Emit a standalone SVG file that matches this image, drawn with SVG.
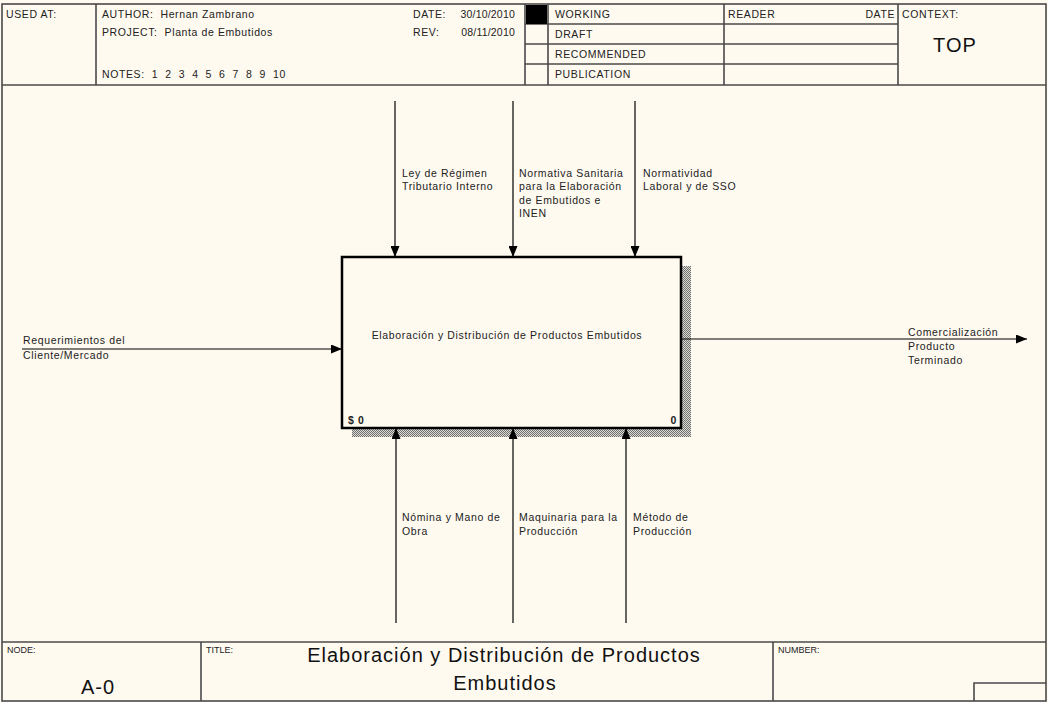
<svg xmlns="http://www.w3.org/2000/svg" width="1048" height="702" viewBox="0 0 1048 702">
  <style>
    .frame { fill: none; stroke: #4a4a4a; stroke-width: 1.6; }
    .hdr { font-family: "Liberation Sans", Arial, sans-serif; font-size: 10.5px; letter-spacing: 0.6px; fill: #222; }
    .num { font-family: "Liberation Sans", Arial, sans-serif; font-size: 10.5px; letter-spacing: 0.2px; fill: #222; }
    .lbl { font-family: "Liberation Sans", Arial, sans-serif; font-size: 10.5px; letter-spacing: 0.65px; fill: #222; }
    .small { font-family: "Liberation Sans", Arial, sans-serif; font-size: 9px; fill: #222; }
    .big { font-family: "Liberation Sans", Arial, sans-serif; font-size: 20px; letter-spacing: 1px; fill: #111; }
    .conn { fill: none; stroke: #000; stroke-width: 1.2; }
    .box { fill: #fffaf0; stroke: #000; stroke-width: 2.5; }
  </style>
  <defs>
    <pattern id="hatch" width="2" height="2" patternUnits="userSpaceOnUse">
      <rect width="2" height="2" fill="#dcdcd4"/>
      <rect width="1" height="1" fill="#707070"/>
      <rect x="1" y="1" width="1" height="1" fill="#707070"/>
    </pattern>
    <marker id="arrow" markerUnits="userSpaceOnUse" markerWidth="12" markerHeight="9" refX="11" refY="4.5" orient="auto">
      <path d="M0,0 L11,4.5 L0,9 Z" fill="#000"/>
    </marker>
  </defs>

  <!-- sheet background -->
  <rect x="0" y="0" width="1048" height="702" fill="#fffaf0"/>

  <!-- outer frame -->
  <rect class="frame" x="2" y="4" width="1044" height="697"/>

  <!-- header block -->
  <g id="header">
    <line class="frame" x1="2" y1="85" x2="1046" y2="85"/>
    <line class="frame" x1="96" y1="4" x2="96" y2="85"/>
    <line class="frame" x1="525" y1="4" x2="525" y2="85"/>
    <line class="frame" x1="548" y1="4" x2="548" y2="85"/>
    <line class="frame" x1="724" y1="4" x2="724" y2="85"/>
    <line class="frame" x1="898" y1="4" x2="898" y2="85"/>
    <line class="frame" x1="525" y1="24" x2="898" y2="24"/>
    <line class="frame" x1="525" y1="44" x2="898" y2="44"/>
    <line class="frame" x1="525" y1="64" x2="898" y2="64"/>
    <rect x="526" y="5" width="21" height="19" fill="#000"/>
    <text class="hdr" x="6" y="18">USED AT:</text>
    <text class="hdr" x="102" y="18" xml:space="preserve">AUTHOR:  Hernan Zambrano</text>
    <text class="hdr" x="102" y="36" xml:space="preserve">PROJECT:  Planta de Embutidos</text>
    <text class="hdr" x="102" y="78" xml:space="preserve">NOTES:  1  2  3  4  5  6  7  8  9  10</text>
    <text class="hdr" x="413" y="18">DATE:</text>
    <text class="num" x="515" y="18" text-anchor="end">30/10/2010</text>
    <text class="hdr" x="413" y="36">REV:</text>
    <text class="num" x="515" y="36" text-anchor="end">08/11/2010</text>
    <text class="hdr" x="555" y="18">WORKING</text>
    <text class="hdr" x="555" y="38">DRAFT</text>
    <text class="hdr" x="555" y="58">RECOMMENDED</text>
    <text class="hdr" x="555" y="78">PUBLICATION</text>
    <text class="hdr" x="728" y="18">READER</text>
    <text class="hdr" x="895" y="18" text-anchor="end">DATE</text>
    <text class="hdr" x="902" y="18">CONTEXT:</text>
    <text class="big" x="955" y="52" text-anchor="middle" font-size="21" letter-spacing="1.5">TOP</text>
  </g>

  <!-- footer block -->
  <g id="footer">
    <line class="frame" x1="2" y1="642" x2="1046" y2="642"/>
    <line class="frame" x1="201" y1="642" x2="201" y2="701"/>
    <line class="frame" x1="773" y1="642" x2="773" y2="701"/>
    <polyline class="frame" points="974,701 974,683 1046,683"/>
    <text class="small" x="7" y="653">NODE:</text>
    <text class="small" x="206" y="653">TITLE:</text>
    <text class="small" x="778" y="653">NUMBER:</text>
    <text class="big" x="98" y="694" text-anchor="middle" letter-spacing="1.5">A-0</text>
    <text class="big" x="504" y="662" text-anchor="middle">Elaboración y Distribución de Productos</text>
    <text class="big" x="505" y="690" text-anchor="middle">Embutidos</text>
  </g>

  <!-- activity box A0 -->
  <g id="node-a0">
    <rect x="352" y="266" width="339" height="171" fill="url(#hatch)"/>
    <rect class="box" x="342" y="257" width="339" height="171"/>
    <text class="lbl" x="507" y="339" text-anchor="middle">Elaboración y Distribución de Productos Embutidos</text>
    <text class="lbl" x="348" y="424" font-weight="bold" xml:space="preserve">$ 0</text>
    <text class="lbl" x="677" y="424" text-anchor="end" font-weight="bold">0</text>
  </g>

  <!-- ICOM arrows -->
  <g id="connectors">
    <!-- input -->
    <line class="conn" x1="22" y1="349" x2="342" y2="349" marker-end="url(#arrow)"/>
    <!-- output -->
    <line class="conn" x1="682" y1="339" x2="1027" y2="339" marker-end="url(#arrow)"/>
    <!-- controls -->
    <line class="conn" x1="395" y1="101" x2="395" y2="257" marker-end="url(#arrow)"/>
    <line class="conn" x1="513" y1="101" x2="513" y2="257" marker-end="url(#arrow)"/>
    <line class="conn" x1="635" y1="101" x2="635" y2="257" marker-end="url(#arrow)"/>
    <!-- mechanisms -->
    <line class="conn" x1="396" y1="623" x2="396" y2="428" marker-end="url(#arrow)"/>
    <line class="conn" x1="513" y1="623" x2="513" y2="428" marker-end="url(#arrow)"/>
    <line class="conn" x1="626" y1="623" x2="626" y2="428" marker-end="url(#arrow)"/>
  </g>

  <!-- arrow labels -->
  <g id="labels">
    <text class="lbl" x="23" y="344">Requerimientos del</text>
    <text class="lbl" x="23" y="359">Cliente/Mercado</text>

    <text class="lbl" x="908" y="336">Comercialización</text>
    <text class="lbl" x="908" y="350">Producto</text>
    <text class="lbl" x="908" y="364">Terminado</text>

    <text class="lbl" x="402" y="177">Ley de Régimen</text>
    <text class="lbl" x="402" y="190">Tributario Interno</text>

    <text class="lbl" x="519" y="177">Normativa Sanitaria</text>
    <text class="lbl" x="519" y="190">para la Elaboración</text>
    <text class="lbl" x="519" y="204">de Embutidos e</text>
    <text class="lbl" x="519" y="217">INEN</text>

    <text class="lbl" x="643" y="177">Normatividad</text>
    <text class="lbl" x="643" y="190">Laboral y de SSO</text>

    <text class="lbl" x="402" y="521">Nómina y Mano de</text>
    <text class="lbl" x="402" y="535">Obra</text>

    <text class="lbl" x="519" y="521">Maquinaria para la</text>
    <text class="lbl" x="519" y="535">Producción</text>

    <text class="lbl" x="633" y="521">Método de</text>
    <text class="lbl" x="633" y="535">Producción</text>
  </g>
</svg>
